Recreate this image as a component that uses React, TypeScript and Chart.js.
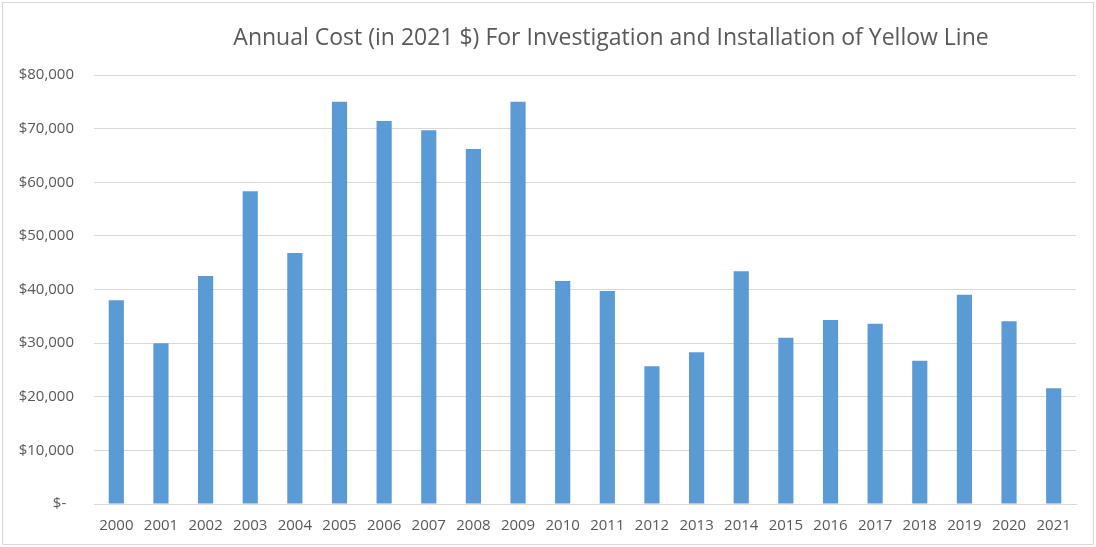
import React, { useEffect, useRef } from "react";
import { Chart, registerables } from "chart.js";

Chart.register(...registerables);

const categories = ["2000","2001","2002","2003","2004","2005","2006","2007","2008","2009","2010","2011","2012","2013","2014","2015","2016","2017","2018","2019","2020","2021"];
const costs = [38000,30000,42500,58300,46800,75000,71400,69700,66200,75000,41600,39700,25700,28300,43400,31000,34300,33600,26700,39000,34100,21600];
const yTicks = [0,10000,20000,30000,40000,50000,60000,70000,80000];
const titleText = "Annual Cost (in 2021 $) For Investigation and Installation of Yellow Line";

const FONT = "'Open Sans', 'Liberation Sans', sans-serif";
const TEXT = "#595959";
const GRID = "#d9d9d9";

function fmt(v: number) {
  if (v === 0) return "$-  ";
  return "$" + v.toLocaleString("en-US");
}

export default function App() {
  const ref = useRef<HTMLCanvasElement | null>(null);
  useEffect(() => {
    if (!ref.current) return;
    const titlePlugin = {
      id: "customTitle",
      afterDraw(chart: any) {
        const { ctx, chartArea } = chart;
        ctx.save();
        ctx.font = `23px ${FONT}`;
        ctx.fillStyle = TEXT;
        ctx.textAlign = "center";
        ctx.textBaseline = "middle";
        ctx.fillText(titleText, (chartArea.left + chartArea.right) / 2 + 26, 38);
        ctx.restore();
      },
    };
    const chart = new Chart(ref.current, {
      type: "bar",
      data: {
        labels: categories,
        datasets: [
          {
            data: costs,
            backgroundColor: "#5B9BD5",
            categoryPercentage: 1,
            barPercentage: 0.34,
          },
        ],
      },
      options: {
        animation: false,
        responsive: false,
        layout: { padding: { top: 75, right: 20, bottom: 0, left: 0 } },
        plugins: { legend: { display: false }, tooltip: { enabled: false }, title: { display: false } },
        scales: {
          x: {
            grid: { display: false, drawTicks: false },
            border: { display: true, color: GRID, width: 1 },
            ticks: { color: TEXT, font: { family: FONT, size: 15 }, padding: 13, maxRotation: 0 },
            afterFit(scale: any) { scale.height = 43; },
          },
          y: {
            min: 0,
            max: 80000,
            afterBuildTicks(scale: any) { scale.ticks = yTicks.map((v) => ({ value: v })); },
            grid: { color: GRID, drawTicks: false },
            border: { display: false },
            ticks: { color: TEXT, font: { family: FONT, size: 15 }, padding: 20, callback: (v: any) => fmt(Number(v)) },
            afterFit(scale: any) { scale.width = 94; },
          },
        },
      },
      plugins: [titlePlugin],
    });
    return () => chart.destroy();
  }, []);
  return (
    <div style={{ position: "fixed", left: 0, top: 0, width: 1096, height: 547, background: "#fff" }}>
      <canvas ref={ref} width={1096} height={547} style={{ position: "absolute", left: 0, top: 0 }} />
      <div style={{ position: "absolute", left: 2, top: 2, width: 1090, height: 541, border: `1px solid ${GRID}`, pointerEvents: "none" }} />
    </div>
  );
}
